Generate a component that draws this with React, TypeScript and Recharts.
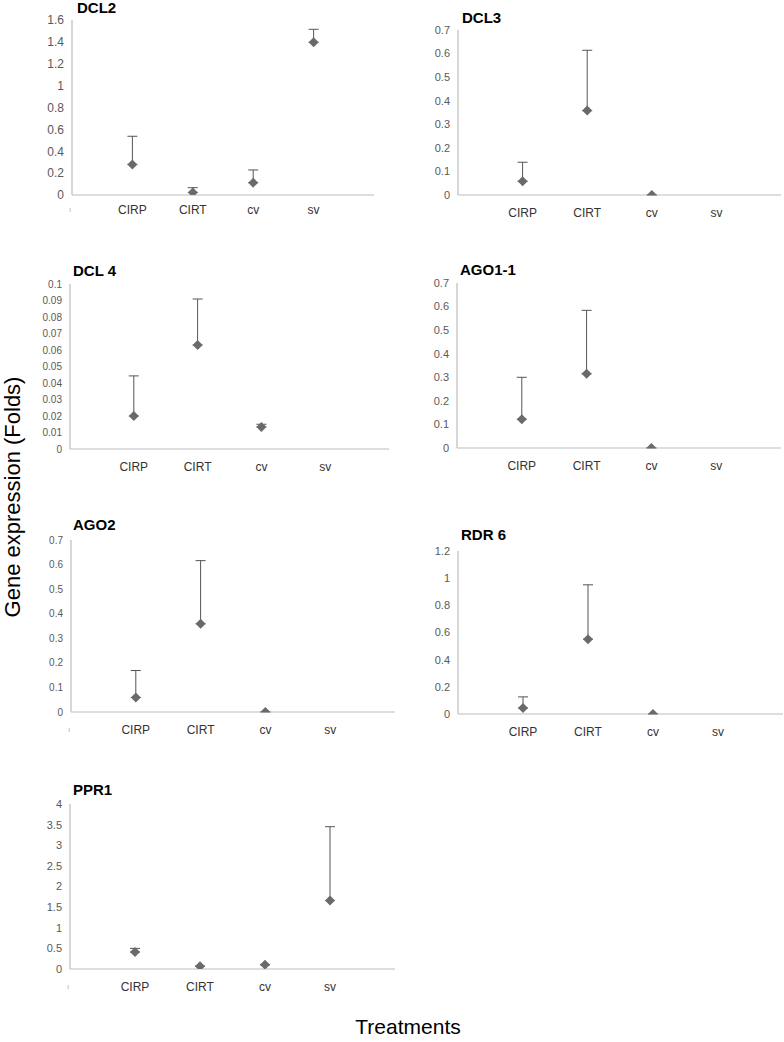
import React from "react";
import { ScatterChart, Scatter, XAxis, YAxis, ErrorBar } from "recharts";

const categories = ["CIRP", "CIRT", "cv", "sv"];

const dcl2Mean = [0.28, 0.024, 0.113, 1.396];
const dcl2Err = [0.257, 0.043, 0.116, 0.119];
const dcl2Ticks = [0, 0.2, 0.4, 0.6, 0.8, 1, 1.2, 1.4, 1.6];

const dcl3Mean = [0.058, 0.358, 0, null];
const dcl3Err = [0.081, 0.256, 0, null];
const dcl3Ticks = [0, 0.1, 0.2, 0.3, 0.4, 0.5, 0.6, 0.7];

const dcl4Mean = [0.02, 0.063, 0.0134, null];
const dcl4Err = [0.0243, 0.0279, 0.0016, null];
const dcl4Ticks = [0, 0.01, 0.02, 0.03, 0.04, 0.05, 0.06, 0.07, 0.08, 0.09, 0.1];

const ago11Mean = [0.122, 0.315, 0, null];
const ago11Err = [0.178, 0.269, 0, null];
const ago11Ticks = [0, 0.1, 0.2, 0.3, 0.4, 0.5, 0.6, 0.7];

const ago2Mean = [0.059, 0.359, 0, null];
const ago2Err = [0.11, 0.257, 0, null];
const ago2Ticks = [0, 0.1, 0.2, 0.3, 0.4, 0.5, 0.6, 0.7];

const rdr6Mean = [0.044, 0.551, 0, null];
const rdr6Err = [0.082, 0.4, 0, null];
const rdr6Ticks = [0, 0.2, 0.4, 0.6, 0.8, 1, 1.2];

const ppr1Mean = [0.41, 0.065, 0.105, 1.66];
const ppr1Err = [0.09, 0, 0, 1.79];
const ppr1Ticks = [0, 0.5, 1, 1.5, 2, 2.5, 3, 3.5, 4];

const FONT = "'Liberation Sans', Arial, sans-serif";

type PanelProps = {
  title: string;
  mean: (number | null)[];
  err: (number | null)[];
  ticks: number[];
  L: number;
  R: number;
  T: number;
  B: number;
  titleY: number;
  titleX: number;
  zeroMark?: boolean;
  tickSize?: number;
  labelDy?: number;
};

const Diamond = (props: any) => {
  const { cx, cy } = props;
  const r = 5;
  return (
    <polygon
      points={`${cx},${cy - r} ${cx + r},${cy} ${cx},${cy + r} ${cx - r},${cy}`}
      fill="#6a6a6a"
    />
  );
};

const Panel = ({ title, mean, err, ticks, L, R, T, B, titleX, titleY, zeroMark, tickSize = 11, labelDy = 14 }: PanelProps) => {
  const data = mean
    .map((m, i) => (m === null ? null : { x: i + 1, y: m, e: [0, err[i] as number] }))
    .filter((d) => d !== null);
  const yMax = ticks[ticks.length - 1];
  const XTick = (p: any) => {
    const { x, y, payload } = p;
    const v = payload.value;
    if (v === 0) {
      if (!zeroMark) return null;
      return (
        <text x={x - 2} y={y + labelDy - 2} fontSize={8} fill="#b0b0b0" textAnchor="middle" fontFamily={FONT}>
          ı
        </text>
      );
    }
    return (
      <text x={x} y={y + labelDy} fontSize={12} fill="#333" textAnchor="middle" fontFamily={FONT}>
        {categories[v - 1]}
      </text>
    );
  };
  return (
    <>
      <div
        style={{
          position: "absolute",
          left: titleX,
          top: Math.max(0, titleY - 8),
          fontFamily: FONT,
          fontWeight: "bold",
          fontSize: 15,
          lineHeight: "16px",
          color: "#000",
          whiteSpace: "nowrap",
        }}
      >
        {title}
      </div>
      <div style={{ position: "absolute", left: L - 50, top: T - 10 }}>
        <ScatterChart
          width={R - L + 55}
          height={B - T + 40}
          margin={{ top: 10, right: 5, bottom: 0, left: 0 }}
        >
          <XAxis
            type="number"
            dataKey="x"
            domain={[0, 5]}
            ticks={[0, 1, 2, 3, 4]}
            tick={<XTick />}
            tickLine={false}
            axisLine={{ stroke: "#bdbdbd", strokeWidth: 1.2 }}
            height={30}
            interval={0}
            allowDataOverflow
          />
          <YAxis
            type="number"
            dataKey="y"
            domain={[0, yMax]}
            ticks={ticks}
            interval={0}
            tickLine={false}
            axisLine={{ stroke: "#bdbdbd", strokeWidth: 1.2 }}
            tick={{ fontSize: tickSize, fill: "#595959", fontFamily: FONT }}
            width={50}
            allowDataOverflow
          />
          <Scatter data={data} shape={<Diamond />} isAnimationActive={false}>
            <ErrorBar dataKey="e" direction="y" width={5} stroke="#555" strokeWidth={1} />
          </Scatter>
        </ScatterChart>
      </div>
    </>
  );
};

export default function App() {
  return (
    <div
      style={{
        position: "absolute",
        left: 0,
        top: 0,
        width: 784,
        height: 1042,
        background: "#fff",
        overflow: "hidden",
      }}
    >
      <Panel title="DCL2" mean={dcl2Mean} err={dcl2Err} ticks={dcl2Ticks} L={72} R={374} T={20} B={195} titleX={77} titleY={8} zeroMark tickSize={12} labelDy={11} />
      <Panel title="DCL3" mean={dcl3Mean} err={dcl3Err} ticks={dcl3Ticks} L={458} R={781} T={30} B={195} titleX={462} titleY={18} />
      <Panel title="DCL 4" mean={dcl4Mean} err={dcl4Err} ticks={dcl4Ticks} L={70} R={389} T={284} B={449} titleX={73} titleY={271} tickSize={10} />
      <Panel title="AGO1-1" mean={ago11Mean} err={ago11Err} ticks={ago11Ticks} L={457} R={781} T={283} B={448} titleX={460} titleY={270} />
      <Panel title="AGO2" mean={ago2Mean} err={ago2Err} ticks={ago2Ticks} L={71} R={395} T={540} B={712} titleX={73} titleY={525} zeroMark tickSize={10} />
      <Panel title="RDR 6" mean={rdr6Mean} err={rdr6Err} ticks={rdr6Ticks} L={458} R={783} T={551} B={714} titleX={461} titleY={535} />
      <Panel title="PPR1" mean={ppr1Mean} err={ppr1Err} ticks={ppr1Ticks} L={70} R={395} T={804} B={969} titleX={73} titleY={790} zeroMark />
      <div
        style={{
          position: "absolute",
          left: 13,
          top: 497,
          transform: "translate(-50%, -50%) rotate(-90deg)",
          fontFamily: FONT,
          fontSize: 22,
          whiteSpace: "nowrap",
          color: "#000",
        }}
      >
        Gene expression (Folds)
      </div>
      <div
        style={{
          position: "absolute",
          left: 408,
          top: 1027,
          transform: "translate(-50%, -50%)",
          fontFamily: FONT,
          fontSize: 21,
          whiteSpace: "nowrap",
          color: "#000",
        }}
      >
        Treatments
      </div>
    </div>
  );
}
